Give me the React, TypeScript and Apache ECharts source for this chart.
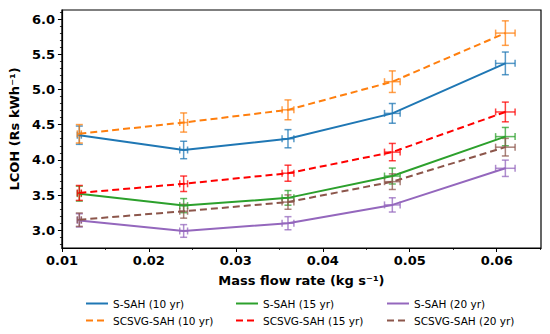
import React, { useEffect, useRef } from "react";
import * as echarts from "echarts";

const xValues = [0.012, 0.024, 0.036, 0.048, 0.061];
const xErr = [0.00023, 0.00045, 0.00068, 0.0009, 0.00112];

const sSah10 = [4.35, 4.14, 4.3, 4.66, 5.37];
const sSah10Err = [0.13, 0.124, 0.129, 0.14, 0.161];
const scsvg10 = [4.37, 4.53, 4.71, 5.11, 5.8];
const scsvg10Err = [0.131, 0.136, 0.141, 0.153, 0.174];
const sSah15 = [3.52, 3.35, 3.46, 3.77, 4.33];
const sSah15Err = [0.106, 0.1, 0.104, 0.113, 0.13];
const scsvg15 = [3.53, 3.66, 3.81, 4.11, 4.68];
const scsvg15Err = [0.106, 0.11, 0.114, 0.123, 0.14];
const sSah20 = [3.14, 2.99, 3.1, 3.36, 3.88];
const sSah20Err = [0.094, 0.09, 0.093, 0.101, 0.116];
const scsvg20 = [3.15, 3.27, 3.4, 3.69, 4.18];
const scsvg20Err = [0.095, 0.098, 0.102, 0.111, 0.125];

const xTicks = [0.01, 0.02, 0.03, 0.04, 0.05, 0.06];
const xMinorTicks = [0.015, 0.025, 0.035, 0.045, 0.055, 0.065];
const yTicks = [3.0, 3.5, 4.0, 4.5, 5.0, 5.5, 6.0];

const seriesDefs = [
  { name: "S-SAH (10 yr)", values: sSah10, err: sSah10Err, color: "#1f77b4", dashed: false },
  { name: "SCSVG-SAH (10 yr)", values: scsvg10, err: scsvg10Err, color: "#ff7f0e", dashed: true },
  { name: "S-SAH (15 yr)", values: sSah15, err: sSah15Err, color: "#2ca02c", dashed: false },
  { name: "SCSVG-SAH (15 yr)", values: scsvg15, err: scsvg15Err, color: "#ff0000", dashed: true },
  { name: "S-SAH (20 yr)", values: sSah20, err: sSah20Err, color: "#9467bd", dashed: false },
  { name: "SCSVG-SAH (20 yr)", values: scsvg20, err: scsvg20Err, color: "#8c564b", dashed: true },
];

const X_MIN = 0.01;
const X_MAX = 0.0651;
const Y_MIN = 2.748;
const Y_MAX = 6.128;

export default function App() {
  const ref = useRef<HTMLDivElement>(null);
  useEffect(() => {
    if (!ref.current) return;
    const chart = echarts.init(ref.current, null, { renderer: "svg" });

    const yMinor: number[] = [];
    for (let i = 28; i <= 61; i++) {
      if (i % 5 !== 0) yMinor.push(i / 10);
    }

    const series: any[] = [];
    seriesDefs.forEach((d) => {
      series.push({
        name: d.name,
        type: "line",
        data: xValues.map((x, i) => [x, d.values[i]]),
        symbol: "none",
        lineStyle: { color: d.color, width: 2, type: d.dashed ? [7, 4] : "solid" },
        itemStyle: { color: d.color },
        z: 3,
      });
      series.push({
        name: d.name + " err",
        type: "custom",
        data: xValues.map((x, i) => [x, d.values[i], xErr[i], d.err[i]]),
        encode: { x: 0, y: 1 },
        z: 2,
        renderItem: (params: any, api: any) => {
          const x = api.value(0);
          const y = api.value(1);
          const xe = api.value(2);
          const ye = api.value(3);
          const top = api.coord([x, y + ye]);
          const bot = api.coord([x, y - ye]);
          const lft = api.coord([x - xe, y]);
          const rgt = api.coord([x + xe, y]);
          const cap = 3.5;
          const style = { stroke: d.color, lineWidth: 1.5, opacity: 0.75 };
          const ln = (x1: number, y1: number, x2: number, y2: number) => ({
            type: "line",
            shape: { x1, y1, x2, y2 },
            style,
          });
          return {
            type: "group",
            children: [
              ln(top[0], top[1], bot[0], bot[1]),
              ln(top[0] - cap, top[1], top[0] + cap, top[1]),
              ln(bot[0] - cap, bot[1], bot[0] + cap, bot[1]),
              ln(lft[0], lft[1], rgt[0], rgt[1]),
              ln(lft[0], lft[1] - cap, lft[0], lft[1] + cap),
              ln(rgt[0], rgt[1] - cap, rgt[0], rgt[1] + cap),
            ],
          };
        },
      });
    });

    const legendText = { fontFamily: "DejaVu Sans", fontSize: 10.5, color: "#000" };
    const mkLegend = (left: number, names: string[]) => ({
      orient: "vertical",
      left,
      top: 298,
      padding: 0,
      itemWidth: 22,
      itemHeight: 12,
      itemGap: 6,
      textStyle: legendText,
      itemStyle: { opacity: 0 },
      lineStyle: { width: 2 },
      data: names,
      selectedMode: false,
    });

    chart.setOption({
      animation: false,
      backgroundColor: "#fff",
      grid: {
        left: 60,
        right: 9,
        top: 10,
        bottom: 86,
        show: true,
        borderColor: "#000",
        borderWidth: 1.2,
        backgroundColor: "transparent",
      },
      legend: [
        mkLegend(85, ["S-SAH (10 yr)", "SCSVG-SAH (10 yr)"]),
        mkLegend(235, ["S-SAH (15 yr)", "SCSVG-SAH (15 yr)"]),
        mkLegend(386, ["S-SAH (20 yr)", "SCSVG-SAH (20 yr)"]),
      ],
      xAxis: [
        {
          type: "value",
          min: X_MIN,
          max: X_MAX,
          name: "Mass flow rate (kg s\u207B\u00B9)",
          nameLocation: "middle",
          nameGap: 26,
          nameTextStyle: { fontFamily: "DejaVu Sans", fontWeight: "bold", fontSize: 13, color: "#000" },
          axisLine: { show: true, lineStyle: { color: "#000", width: 1.2 } },
          axisTick: { show: true, length: 4, customValues: xTicks, lineStyle: { color: "#000", width: 1 } },
          axisLabel: {
            customValues: xTicks,
            margin: 6,
            fontFamily: "DejaVu Sans",
            fontWeight: "bold",
            fontSize: 13,
            color: "#000",
            formatter: (v: number) => v.toFixed(2),
          },
          splitLine: { show: false },
        },
        {
          type: "value",
          min: X_MIN,
          max: X_MAX,
          position: "bottom",
          axisLine: { show: false },
          axisTick: { show: true, length: 2, customValues: xMinorTicks, lineStyle: { color: "#000", width: 0.8 } },
          axisLabel: { show: false },
          splitLine: { show: false },
        },
      ],
      yAxis: [
        {
          type: "value",
          min: Y_MIN,
          max: Y_MAX,
          name: "LCOH (Rs kWh\u207B\u00B9)",
          nameLocation: "middle",
          nameGap: 39,
          nameTextStyle: { fontFamily: "DejaVu Sans", fontWeight: "bold", fontSize: 13, color: "#000" },
          axisLine: { show: true, lineStyle: { color: "#000", width: 1.2 } },
          axisTick: { show: true, length: 4, customValues: yTicks, lineStyle: { color: "#000", width: 1 } },
          axisLabel: {
            customValues: yTicks,
            margin: 7,
            fontFamily: "DejaVu Sans",
            fontWeight: "bold",
            fontSize: 13,
            color: "#000",
            formatter: (v: number) => v.toFixed(1),
          },
          splitLine: { show: false },
        },
        {
          type: "value",
          min: Y_MIN,
          max: Y_MAX,
          position: "left",
          axisLine: { show: false },
          axisTick: { show: true, length: 2, customValues: yMinor, lineStyle: { color: "#000", width: 0.8 } },
          axisLabel: { show: false },
          splitLine: { show: false },
        },
      ],
      series,
    });
    return () => chart.dispose();
  }, []);
  return (
    <div style={{ position: "absolute", left: 0, top: 0 }}>
      <div ref={ref} style={{ width: 550, height: 334 }} />
    </div>
  );
}
